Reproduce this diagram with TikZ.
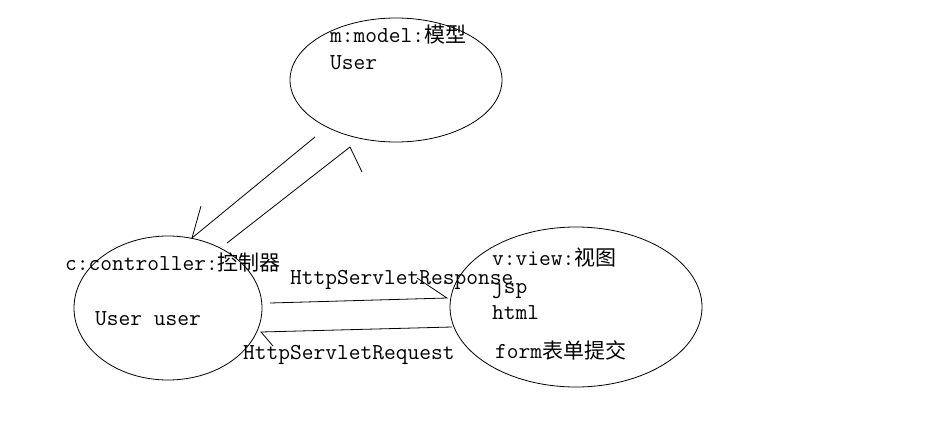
\documentclass[tikz,border=0pt]{standalone}
\usepackage{fontspec}
\newfontfamily\zh[Scale=0.92]{Noto Sans CJK SC}
\usetikzlibrary{shapes.geometric}
\tikzset{
  blob/.style={ellipse,draw,line width=0.8pt,inner sep=0pt},
  lbl/.style={anchor=base west,inner sep=0pt,font=\ttfamily\fontsize{22.8}{26}\selectfont}
}
\begin{document}
\begin{tikzpicture}[x=1pt,y=-1pt]
      \useasboundingbox (0,0) rectangle (933,428);
      \node[blob,minimum width=212,minimum height=124] (model) at (396,80) {};
      \node[blob,minimum width=188,minimum height=144] (ctrl) at (168,308) {};
      \node[blob,minimum width=252,minimum height=160] (view) at (576,307) {};
      \draw
        (330,43) node[lbl] (mtitle){m:model:{\zh 模型}}
        (330,70) node[lbl] (muser){User}
        (65,270) node[lbl] (ctitle){c:controller:{\zh 控制器}}
        (95,325) node[lbl] (cuser){User user}
        (492,265) node[lbl] (vtitle){v:view:{\zh 视图}}
        (492,293) node[lbl] (vjsp){jsp}
        (492,319) node[lbl] (vhtml){html}
        (495,358) node[lbl] (vform){form{\zh 表单提交}}
        (290,284) node[lbl] (resp){HttpServletResponse}
        (243,359) node[lbl] (req){HttpServletRequest};
      % hand drawn arrows, one barb each
      \coordinate (m2c0) at (315,137);
      \coordinate (m2c1) at (192,238);
      \coordinate (m2c2) at (201,206);
      \coordinate (c2m0) at (227,243);
      \coordinate (c2m1) at (350,147);
      \coordinate (c2m2) at (362,172);
      \coordinate (c2v0) at (270,303);
      \coordinate (c2v1) at (447,298);
      \coordinate (c2v2) at (417,278);
      \coordinate (v2c0) at (452,327);
      \coordinate (v2c1) at (261,332);
      \coordinate (v2c2) at (273,346);
      \begin{scope}[line width=0.8pt]
        \draw (m2c0) -- (m2c1) -- (m2c2);
        \draw (c2m0) -- (c2m1) -- (c2m2);
        \draw (c2v0) -- (c2v1) -- (c2v2);
        \draw (v2c0) -- (v2c1) -- (v2c2);
      \end{scope}
    \end{tikzpicture}
\end{document}
